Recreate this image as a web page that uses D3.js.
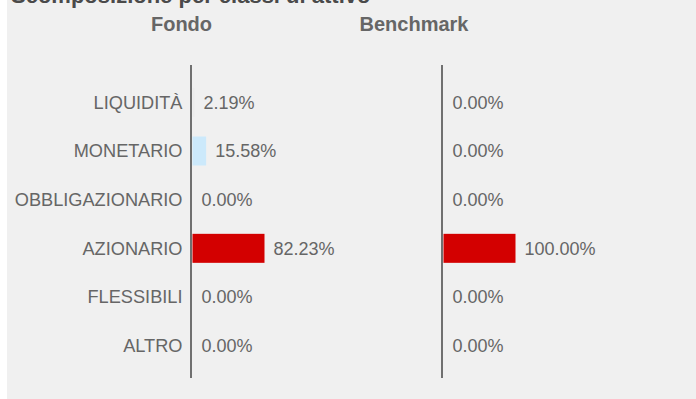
<!DOCTYPE html>
<html>
<head>
<meta charset="utf-8">
<script src="https://cdn.jsdelivr.net/npm/d3@7"></script>
<style>
  html, body { margin: 0; padding: 0; background: #ffffff; }
  svg { display: block; }
</style>
</head>
<body>
<svg id="chart" width="696" height="399"></svg>
<script>
// Asset classes, top to bottom
const categories = ["LIQUIDITÀ", "MONETARIO", "OBBLIGAZIONARIO", "AZIONARIO", "FLESSIBILI", "ALTRO"];
// Weights (%) for the fund and its benchmark
const fondoValues = [2.19, 15.58, 0.00, 82.23, 0.00, 0.00];
const benchmarkValues = [0.00, 0.00, 0.00, 100.00, 0.00, 0.00];
// Fill per asset class
const barColors = ["#ececec", "#cce9fb", "#9bbfe0", "#d30000", "#7f7f7f", "#b0b0b0"];
const panelTitles = ["Fondo", "Benchmark"];
const chartTitle = "Scomposizione per classi di attivo";

const svg = d3.select("#chart");
const font = "'Liberation Sans', Arial, Helvetica, sans-serif";

// card background
svg.append("rect")
  .attr("x", 7).attr("y", 0)
  .attr("width", 689).attr("height", 399)
  .attr("fill", "#f0f0f0");

svg.append("text")
  .attr("x", 11).attr("y", 3)
  .attr("font-family", font).attr("font-size", 22).attr("font-weight", "bold")
  .attr("fill", "#4a4a4a")
  .text(chartTitle);

const y = d3.scaleBand()
  .domain(categories)
  .range([78, 370])
  .paddingInner(0.4)
  .paddingOuter(0.2);

const panels = [
  { title: panelTitles[0], values: fondoValues, axisX: 191, titleX: 181.5 },
  { title: panelTitles[1], values: benchmarkValues, axisX: 442, titleX: 414 }
];

panels.forEach((p, pi) => {
  const x = d3.scaleLinear()
    .domain([0, d3.max(p.values)])
    .range([p.axisX + 1.5, p.axisX + 1.5 + 72]);

  const g = svg.append("g");

  g.append("text")
    .attr("x", p.titleX).attr("y", 31)
    .attr("text-anchor", "middle")
    .attr("font-family", font).attr("font-size", 20).attr("font-weight", "bold")
    .attr("fill", "#666666")
    .text(p.title);

  const rows = g.selectAll("g.row")
    .data(categories.map((c, i) => ({ cat: c, v: p.values[i], color: barColors[i] })))
    .join("g").attr("class", "row");

  rows.append("rect")
    .attr("x", x(0))
    .attr("y", d => y(d.cat) + y.bandwidth() / 2 - 14.5)
    .attr("width", d => x(d.v) - x(0))
    .attr("height", 29)
    .attr("fill", d => d.color);

  rows.append("text")
    .attr("x", d => x(d.v) + 9)
    .attr("y", d => y(d.cat) + y.bandwidth() / 2)
    .attr("dy", "0.35em")
    .attr("font-family", font).attr("font-size", 18)
    .attr("fill", "#666666")
    .text(d => d3.format(".2f")(d.v) + "%");

  if (pi === 0) {
    rows.append("text")
      .attr("x", p.axisX - 8.5)
      .attr("y", d => y(d.cat) + y.bandwidth() / 2)
      .attr("dy", "0.35em")
      .attr("text-anchor", "end")
      .attr("font-family", font).attr("font-size", 18.2)
      .attr("fill", "#666666")
      .text(d => d.cat);
  }

  g.append("line")
    .attr("x1", p.axisX).attr("x2", p.axisX)
    .attr("y1", 65).attr("y2", 378)
    .attr("stroke", "#707070").attr("stroke-width", 2);
});
</script>
</body>
</html>
